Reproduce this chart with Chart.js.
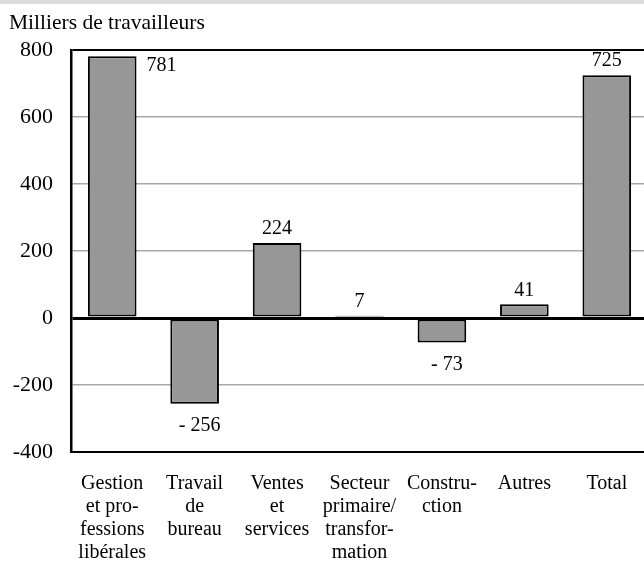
<!DOCTYPE html>
<html lang="fr">
<head>
<meta charset="utf-8">
<title>Milliers de travailleurs</title>
<script src="https://cdn.jsdelivr.net/npm/chart.js@4.4.1/dist/chart.umd.min.js"></script>
<style>
  html, body { margin: 0; padding: 0; background: #fff; overflow: hidden; }
  #band { height: 4px; background: #dcdcdc; }
  #wrap { position: relative; width: 652px; height: 560px; }
</style>
</head>
<body>
<div id="band"></div>
<div id="wrap"><canvas id="chart" width="652" height="560"></canvas></div>
<script>
const CATEGORIES = [
  ['Gestion', 'et pro-', 'fessions', 'libérales'],
  ['Travail', 'de', 'bureau'],
  ['Ventes', 'et', 'services'],
  ['Secteur', 'primaire/', 'transfor-', 'mation'],
  ['Constru-', 'ction'],
  ['Autres'],
  ['Total']
];
const CHANGE = [781, -256, 224, 7, -73, 41, 725];
const Y_TICKS = [800, 600, 400, 200, 0, -200, -400];
const TITLE = 'Milliers de travailleurs';

(function () {
  'use strict';

  const FONT = "'Liberation Serif', 'Times New Roman', serif";

  // title + value labels, drawn after the bars
  const labelsPlugin = {
    id: 'labels',
    afterDraw(chart) {
      const ctx = chart.ctx;
      const area = chart.chartArea;
      ctx.save();
      ctx.fillStyle = '#000';
      ctx.font = '21.5px ' + FONT;
      ctx.textAlign = 'left';
      ctx.textBaseline = 'alphabetic';
      ctx.fillText(TITLE, 9, 25);

      ctx.font = '20px ' + FONT;
      ctx.textBaseline = 'middle';
      const meta = chart.getDatasetMeta(0);
      meta.data.forEach((bar, i) => {
        const v = CHANGE[i];
        const w = bar.width;
        if (v >= 0) {
          const y = bar.y - 14;
          if (y < area.top + 8) {
            ctx.textAlign = 'left';
            ctx.fillText(String(v), bar.x + w / 2 + 10, bar.y + 9);
          } else {
            ctx.textAlign = 'center';
            ctx.fillText(String(v), bar.x, y);
          }
        } else {
          ctx.textAlign = 'center';
          ctx.fillText('- ' + Math.abs(v), bar.x + 5, bar.y + 22);
        }
      });
      ctx.restore();
    }
  };

  new Chart(document.getElementById('chart'), {
    type: 'bar',
    data: {
      labels: CATEGORIES,
      datasets: [{
        data: CHANGE,
        backgroundColor: '#979797',
        borderColor: '#000',
        borderWidth: 2,
        borderSkipped: false,
        barPercentage: 0.59,
        categoryPercentage: 1
      }]
    },
    options: {
      responsive: false,
      animation: false,
      layout: { padding: { top: 46, right: 4, left: 0, bottom: 0 } },
      plugins: {
        legend: { display: false },
        tooltip: { enabled: false }
      },
      scales: {
        x: {
          grid: { display: false, drawTicks: false },
          border: { display: true, color: '#000', width: 2 },
          ticks: {
            color: '#000',
            padding: 20,
            maxRotation: 0,
            autoSkip: false,
            font: { family: FONT, size: 20, lineHeight: 1.15 }
          },
          afterFit(scale) { scale.height = 112; }
        },
        y: {
          min: Y_TICKS[Y_TICKS.length - 1],
          max: Y_TICKS[0],
          grid: {
            drawTicks: false,
            color: (c) => {
              const v = c.tick && c.tick.value;
              return (v === 0 || v === Y_TICKS[0] || v === Y_TICKS[Y_TICKS.length - 1]) ? '#000' : '#a8a8a8';
            },
            lineWidth: (c) => {
              const v = c.tick && c.tick.value;
              if (v === 0) return 3;
              if (v === Y_TICKS[0]) return 2;
              return 1.5;
            }
          },
          border: { display: true, color: '#000', width: 2.5 },
          ticks: {
            stepSize: 200,
            color: '#000',
            padding: 18,
            font: { family: FONT, size: 22 },
            callback: (v) => String(v)
          },
          afterFit(scale) { scale.width = 71; }
        }
      }
    },
    plugins: [labelsPlugin]
  });
})();
</script>
</body>
</html>
